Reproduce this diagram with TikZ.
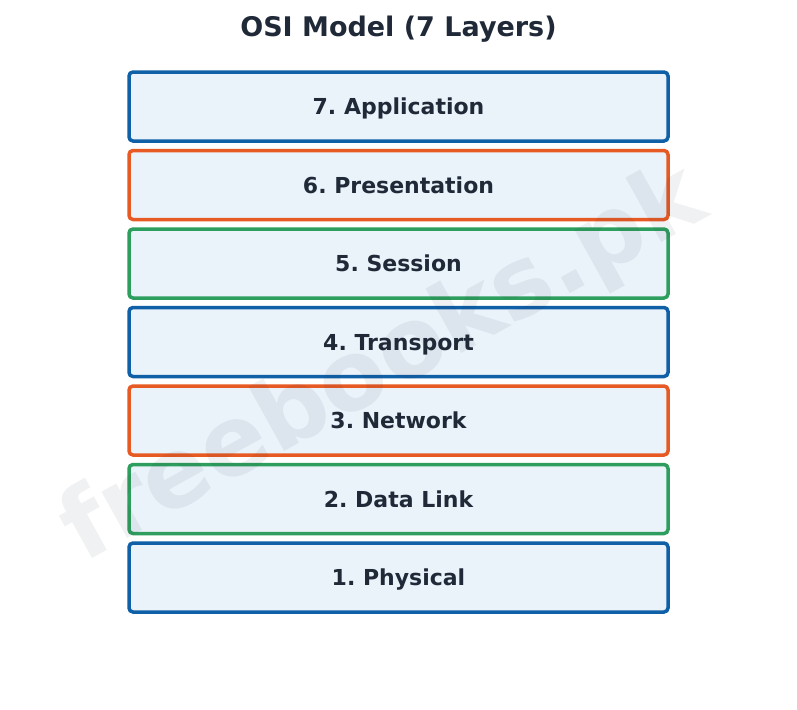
\documentclass[tikz,border=0pt]{standalone}
\usepackage{fontspec}
\setmainfont{DejaVu Sans}
\usetikzlibrary{positioning}

\definecolor{inkdark}{RGB}{31,41,55}
\definecolor{layerfill}{RGB}{234,242,250}
\definecolor{layerblue}{RGB}{16,96,168}
\definecolor{layerorange}{RGB}{232,90,36}
\definecolor{layergreen}{RGB}{46,158,94}

\tikzset{
  layer/.style={draw=#1, fill=layerfill, line width=3.5pt, rounded corners=4pt,
    minimum width=539pt, minimum height=69pt, inner sep=0pt, outer sep=0pt,
    text height=16pt, text depth=0pt,
    text=inkdark, font=\bfseries\fontsize{22}{26}\selectfont},
}

\begin{document}
\frenchspacing
\begin{tikzpicture}[x=1pt, y=-1pt, node distance=9.5pt]
  \useasboundingbox (0,0) rectangle (797,709);
    \node [text=inkdark, text height=20pt, text depth=0pt,
      font=\bfseries\fontsize{27}{32}\selectfont] (title) at (398.5,27) {OSI Model (7 Layers)};
    \node [layer=layerblue] (app) at (398.5,106.5) {7. Application};
    \node [layer=layerorange, below=of app] (pres) {6. Presentation};
    \node [layer=layergreen, below=of pres] (sess) {5. Session};
    \node [layer=layerblue, below=of sess] (trans) {4. Transport};
    \node [layer=layerorange, below=of trans] (net) {3. Network};
    \node [layer=layergreen, below=of net] (link) {2. Data Link};
    \node [layer=layerblue, below=of link] (phys) {1. Physical};
    \node [rotate=29, text=inkdark, text opacity=0.065,
      font=\bfseries\fontsize{97}{105}\selectfont] (mark) at (384,366) {freebooks.pk};
  \end{tikzpicture}
\end{document}
